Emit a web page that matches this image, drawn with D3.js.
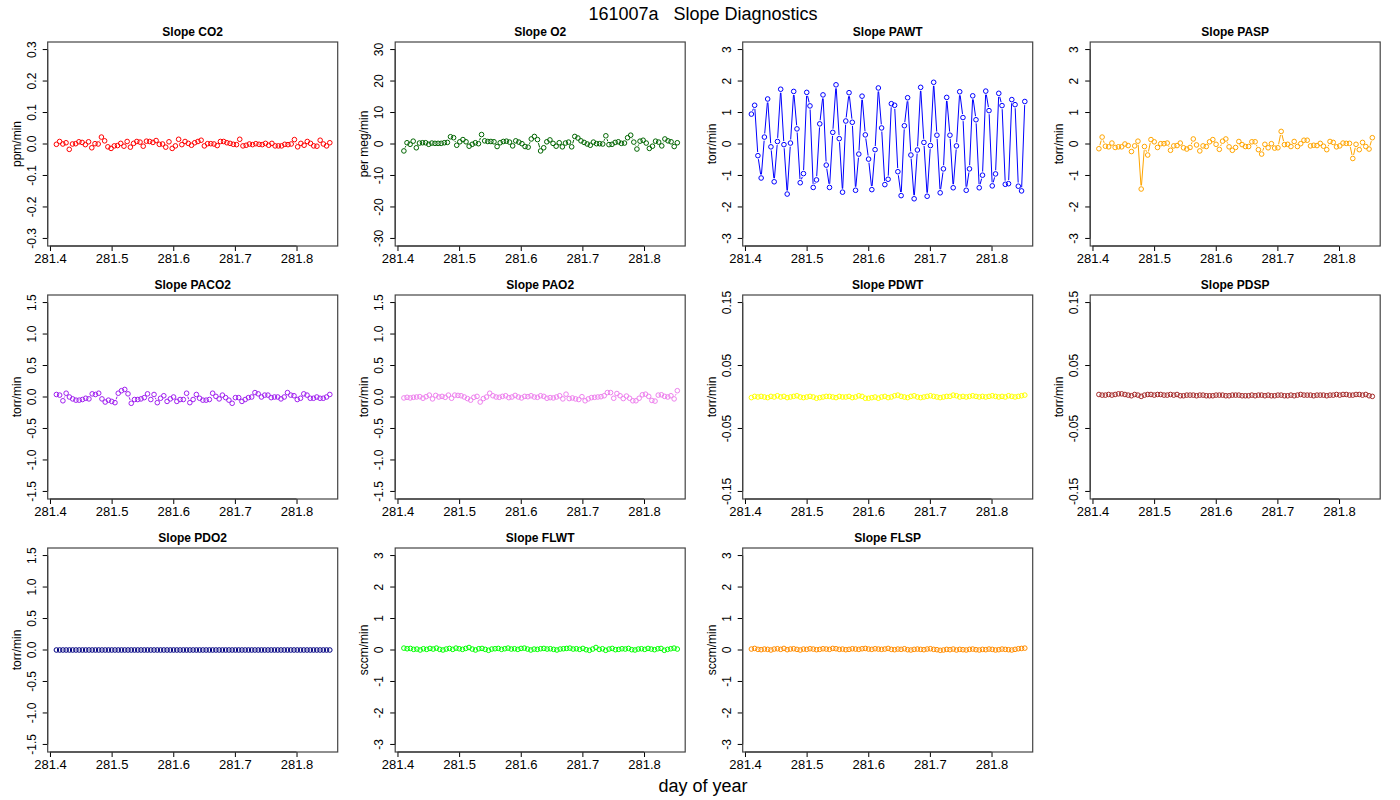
<!DOCTYPE html>
<html><head><meta charset="utf-8">
<script src="https://cdn.jsdelivr.net/npm/d3@7"></script>
<style>body{margin:0;background:#fff}svg{font-family:"Liberation Sans",Arial,sans-serif}</style>
</head><body><svg id="chart" width="1400" height="800"></svg>
<script>
// sampling window (day of year)
const tStart = 281.4104, tEnd = 281.854;

const co2 = [-0.001,0.008,0,0.004,-0.017,0,0.001,0.007,0.005,-0.002,0.007,-0.012,0.001,0,0.022,0.01,-0.009,-0.014,-0.006,-0.005,0.002,-0.007,0.008,-0.01,0.002,0.008,0.006,-0.007,0.009,0.008,0.005,0.011,-0.001,0,-0.01,0.007,-0.014,-0.006,0.015,-0.002,0.008,0.002,-0.004,0.004,0.008,0.012,-0.006,0.001,0.001,0,-0.005,0.008,0.008,0.004,0.002,-0.001,-0.002,0.015,-0.006,-0.004,0,-0.002,0.001,-0.001,-0.002,0.002,-0.004,0.002,-0.006,-0.006,-0.006,-0.001,-0.002,0,0.014,-0.009,0.002,-0.004,0.008,0.002,-0.006,-0.007,0.012,0,-0.006,0.004];
const o2 = [-2.2,0.4,-0.1,0.9,-1.2,0.3,0.4,0.4,-0.1,0.3,0.2,0.2,0.2,0.4,0.5,2.3,2.0,-0.4,0.7,1.4,0.7,-0.7,-0.1,0.4,0.1,3.0,1.0,0.8,0.8,0.7,-0.8,0.4,0.8,0.9,0.6,-0.6,1.0,0.6,0.1,-0.8,-1.0,1.6,2.4,1.4,-2.2,-1.2,0.7,1.3,0.2,-0.7,0.4,-0.9,0.3,0.6,-0.9,2.4,1.9,1.0,0.5,0.0,-0.4,0.6,0.1,0.1,0.0,2.6,-0.2,-0.1,0.5,0.7,0.2,0.3,2.0,2.8,0.6,-1.6,0.9,1.2,0.3,-1.4,-0.7,0.9,0.6,-0.6,1.6,1.0,0.7,-0.8,0.4];
const pawt = [0.95,1.23,-0.37,-1.08,0.22,1.43,-0.09,-1.20,0.08,1.74,-0.02,-1.59,0.03,1.67,0.48,-1.23,-0.94,1.64,1.21,-1.38,-1.14,0.64,1.56,-0.67,-1.38,0.37,1.88,0.17,-1.53,0.73,1.63,0.69,-1.47,-0.32,1.52,0.29,-0.48,-1.45,-0.18,1.78,0.51,-1.29,-1.12,1.28,1.23,-0.88,-1.64,0.58,1.47,-0.35,-1.74,-0.19,1.80,0.05,-1.66,-0.05,1.96,0.28,-1.55,-0.79,1.48,0.28,-1.39,-0.06,1.66,0.84,-1.47,-0.79,1.53,0.77,-1.39,-0.99,1.68,1.06,-1.33,-0.95,1.61,1.22,-1.28,-1.26,1.41,1.25,-1.34,-1.49,1.35];
const pasp = [-0.15,0.22,-0.07,-0.09,0.03,-0.11,-0.09,-0.09,0.00,-0.05,-0.24,-0.06,0.09,-1.43,-0.08,-0.35,0.14,0.07,-0.11,0.01,0.01,0.03,-0.20,-0.06,-0.05,0.03,-0.12,-0.16,-0.11,0.16,-0.03,-0.22,-0.06,-0.08,0.07,0.14,-0.01,-0.17,0.09,0.16,-0.09,-0.20,-0.11,0.08,-0.02,-0.08,-0.08,0.07,0.07,-0.18,-0.32,-0.01,-0.12,0.01,-0.13,-0.12,0.40,-0.02,-0.01,-0.08,0.08,-0.08,0.01,0.12,0.12,-0.06,-0.04,-0.05,0.02,-0.07,-0.18,0.08,0.05,-0.09,-0.06,0.03,0.02,0.02,-0.46,-0.01,-0.18,0.05,-0.08,-0.16,0.20];
const paco2 = [0.04,0.03,-0.06,0.06,0.0,-0.03,-0.05,-0.05,-0.04,-0.02,-0.03,0.05,0.04,0.06,-0.03,-0.08,-0.05,-0.07,-0.09,0.06,0.10,0.12,0.05,-0.10,-0.04,-0.04,-0.03,-0.01,0.05,-0.04,0.04,-0.09,-0.02,0.02,-0.07,-0.03,0.0,-0.07,-0.04,-0.04,0.06,-0.09,-0.04,0.04,-0.02,-0.05,-0.05,-0.04,0.06,0.01,-0.03,0.03,-0.01,-0.05,-0.10,-0.01,-0.01,-0.07,-0.04,-0.01,0.0,0.07,0.05,0.0,0.03,0.03,-0.01,0.0,0.0,-0.03,0.0,0.07,0.03,0.02,-0.04,-0.02,0.05,0.03,-0.02,-0.02,0.0,-0.02,-0.02,0.0,0.04];
const pao2 = [-0.015,-0.005,-0.015,-0.005,0,0.005,-0.02,0.005,0.03,-0.03,0.025,0,0.01,-0.005,0.03,-0.02,0.03,0.025,0.02,0,-0.025,-0.05,-0.005,0.01,-0.08,-0.025,0,0.06,0.02,0,-0.005,0.01,0.02,-0.01,0,0.025,0,-0.015,0.01,0.005,0.02,0,-0.005,0.02,0.01,-0.02,-0.01,-0.015,0,0.02,-0.03,0.045,-0.025,-0.015,-0.03,-0.04,0.005,-0.06,-0.03,-0.01,-0.005,0,0.005,0.02,0.07,0.07,-0.02,0.055,0.02,-0.025,0.015,-0.02,-0.06,-0.06,-0.02,0.035,0.045,0.01,-0.055,-0.065,0.03,0.035,0.01,0,0.02,-0.03,0.1];
const pdwt = [-0.001,0.001,0,0.001,0,-0.001,0.001,0,0.002,0,0.001,-0.001,0,0.001,0.002,0,-0.001,0,0.001,0,-0.002,-0.001,0,0.001,0.001,0,-0.001,0.001,0,0,0.001,-0.001,0,0.002,0.001,-0.002,-0.002,-0.001,0,-0.002,0,0.001,-0.001,0,0.002,0.003,0.001,0,-0.001,0.001,0.002,0,-0.001,0,0.001,0.002,0.001,0,-0.001,0,0.001,0.001,0.003,0.002,0,0.001,0,0.001,0.002,0.001,0,0.001,0,0.001,0.002,0.001,0,0.001,0,0.002,0.001,0,0.001,0.002,0.003];
const pdsp = [0.004,0.003,0.003,0.004,0.003,0.004,0.005,0.005,0.004,0.003,0.002,0.004,0.003,0.001,0.003,0.004,0.004,0.003,0.004,0.004,0.003,0.003,0.004,0.003,0.004,0.002,0.002,0.003,0.003,0.003,0.002,0.003,0.003,0.002,0.002,0.002,0.003,0.003,0.003,0.002,0.002,0.003,0.003,0.003,0.002,0.002,0.002,0.003,0.002,0.003,0.003,0.002,0.003,0.002,0.002,0.003,0.003,0.002,0.002,0.003,0.002,0.003,0.004,0.003,0.003,0.003,0.002,0.003,0.003,0.003,0.002,0.003,0.003,0.004,0.003,0.004,0.004,0.003,0.003,0.004,0.004,0.003,0.004,0.002,0.001];
const pdo2 = [0,0,0,0,0,0,0,0,0,0,0,0,0,0,0,0,0,0,0,0,0,0,0,0,0,0,0,0,0,0,0,0,0,0,0,0,0,0,0,0,0,0,0,0,0,0,0,0,0,0,0,0,0,0,0,0,0,0,0,0,0,0,0,0,0,0,0,0,0,0,0,0,0,0,0,0,0,0,0,0,0,0,0,0,0];
const flwt = [0.06,0.04,0.05,0.02,0.03,0.0,0.04,0.02,0.05,0.03,0.06,0.02,0.0,0.03,0.05,0.02,0.06,0.04,0.02,0.05,0.08,0.03,0.0,0.04,0.05,0.02,-0.01,0.03,0.04,0.05,0.02,0.04,0.06,0.03,0.04,0.02,0.05,0.06,0.03,0.0,0.03,0.02,0.04,0.05,0.03,0.04,0.02,0.0,0.03,0.04,0.05,0.06,0.03,0.04,0.02,0.05,0.01,-0.01,0.03,0.08,0.02,0.04,-0.01,0.03,0.05,0.01,0.02,0.04,0.03,0.05,0.01,0.0,0.03,0.04,0.02,0.05,0.03,0.01,0.04,0.05,-0.01,0.02,0.04,0.06,0.03];
const flsp = [0.03,0.05,0.02,0.01,0.03,0.02,0.0,0.03,0.04,0.02,0.05,0.01,0.03,0.04,0.02,0.0,0.03,0.02,0.04,0.03,0.01,0.02,0.04,0.03,0.02,0.05,0.04,0.02,0.03,0.01,0.02,0.04,0.03,0.02,0.04,0.05,0.03,0.02,0.04,0.03,0.02,0.03,0.05,0.02,0.01,0.03,0.02,0.04,0.01,0.0,0.02,0.03,0.02,0.01,0.03,0.04,0.02,0.01,-0.01,0.0,0.02,0.01,0.03,0.0,0.02,0.01,0.0,0.02,0.03,0.01,0.0,0.02,0.01,0.03,0.02,0.0,0.01,0.03,0.02,0.01,0.0,0.02,0.04,0.05,0.06];

const names = ['CO2','O2','PAWT','PASP','PACO2','PAO2','PDWT','PDSP','PDO2','FLWT','FLSP'];
const series = [co2,o2,pawt,pasp,paco2,pao2,pdwt,pdsp,pdo2,flwt,flsp];
const units = ['ppm/min','per meg/min','torr/min','torr/min','torr/min','torr/min','torr/min','torr/min','torr/min','sccm/min','sccm/min'];
const colors = ['#ff0000','#006400','#0000ff','#ffa500','#a020f0','#ee82ee','#ffff00','#a52a2a','#000080','#00ff00','#ff8c00'];
const limits = [0.3,30,3,3,1.5,1.5,0.15,0.15,1.5,3,3];
const yTicks = [
  [-0.3,-0.2,-0.1,0,0.1,0.2,0.3],[-30,-20,-10,0,10,20,30],[-3,-2,-1,0,1,2,3],[-3,-2,-1,0,1,2,3],
  [-1.5,-1,-0.5,0,0.5,1,1.5],[-1.5,-1,-0.5,0,0.5,1,1.5],[-0.15,-0.05,0.05,0.15],[-0.15,-0.05,0.05,0.15],
  [-1.5,-1,-0.5,0,0.5,1,1.5],[-3,-2,-1,0,1,2,3],[-3,-2,-1,0,1,2,3]];
const yDecimals = [1,0,0,0,1,1,2,2,1,0,0];
const xTicks = [281.4,281.5,281.6,281.7,281.8];

const svg = d3.select('#chart');
const pw = 290, ph = 204;
const colLeft = [47.7,395.2,742.7,1090.2], rowTop = [42,295,548];

svg.append('text').attr('x',703).attr('y',20).attr('text-anchor','middle').style('font-size','18px').style('white-space','pre').text('161007a   Slope Diagnostics');
svg.append('text').attr('x',703).attr('y',792).attr('text-anchor','middle').style('font-size','18px').text('day of year');

series.forEach((vals, k) => {
  const g = svg.append('g').attr('transform', `translate(${colLeft[k % 4]},${rowTop[Math.floor(k / 4)]})`);
  const x = d3.scaleLinear().domain([281.3963, 281.8668]).range([0, pw]);
  const L = limits[k];
  const y = d3.scaleLinear().domain([-L * 1.08, L * 1.08]).range([ph, 0]);
  const fmt = d3.format('.' + yDecimals[k] + 'f');

  const xa = g.append('g').attr('transform', `translate(0,${ph})`).call(d3.axisBottom(x).tickValues(xTicks).tickSize(5).tickPadding(3).tickFormat(d3.format('.1f')));
  xa.select('.domain').remove();
  xa.append('line').attr('x1', x(281.4)).attr('x2', x(281.8)).attr('stroke', '#000');
  xa.selectAll('text').attr('fill','#000').style('font-size','13px').style('font-family','"Liberation Sans",Arial,sans-serif');

  const ya = g.append('g').call(d3.axisLeft(y).tickValues(yTicks[k]).tickSize(5).tickPadding(4).tickFormat(v => fmt(v).replace('−','-')));
  ya.select('.domain').remove();
  ya.append('line').attr('y1', y(yTicks[k][0])).attr('y2', y(yTicks[k][yTicks[k].length - 1])).attr('stroke', '#000');
  ya.selectAll('text').attr('fill','#000').style('font-size','12px').style('font-family','"Liberation Sans",Arial,sans-serif')
    .attr('text-anchor','middle').attr('transform','rotate(-90)').attr('dy', 0)
    .attr('y', -12).each(function(d){ d3.select(this).attr('x', -y(d)); });
  ya.selectAll('.tick').attr('transform', null).each(function(d){
    d3.select(this).select('line').attr('y1', y(d)).attr('y2', y(d));
  });

  g.append('rect').attr('width', pw).attr('height', ph).attr('fill','none').attr('stroke','#444').attr('stroke-width',1.2);
  g.append('text').attr('x', pw / 2).attr('y', -6).attr('text-anchor','middle').style('font-size','12px').style('font-weight','bold').text('Slope ' + names[k]);
  g.append('text').attr('transform', `translate(-27,${ph / 2}) rotate(-90)`).attr('text-anchor','middle').style('font-size','12px').text(units[k]);

  const n = vals.length;
  const pts = vals.map((v, i) => [x(tStart + i * (tEnd - tStart) / (n - 1)), y(v)]);
  const r = 2.3, gap = 3.6;
  // R type="b": segments broken around each point
  for (let i = 0; i < n - 1; i++) {
    const [x1, y1] = pts[i], [x2, y2] = pts[i + 1];
    const d = Math.hypot(x2 - x1, y2 - y1);
    if (d <= 2 * gap) continue;
    const ux = (x2 - x1) / d, uy = (y2 - y1) / d;
    g.append('line').attr('x1', x1 + ux * gap).attr('y1', y1 + uy * gap).attr('x2', x2 - ux * gap).attr('y2', y2 - uy * gap)
      .attr('stroke', colors[k]).attr('stroke-width', 1);
  }
  g.selectAll('circle.p').data(pts).join('circle').attr('class','p').attr('cx', d => d[0]).attr('cy', d => d[1]).attr('r', r)
    .attr('fill','none').attr('stroke', colors[k]).attr('stroke-width', 1);
});
</script></body></html>
